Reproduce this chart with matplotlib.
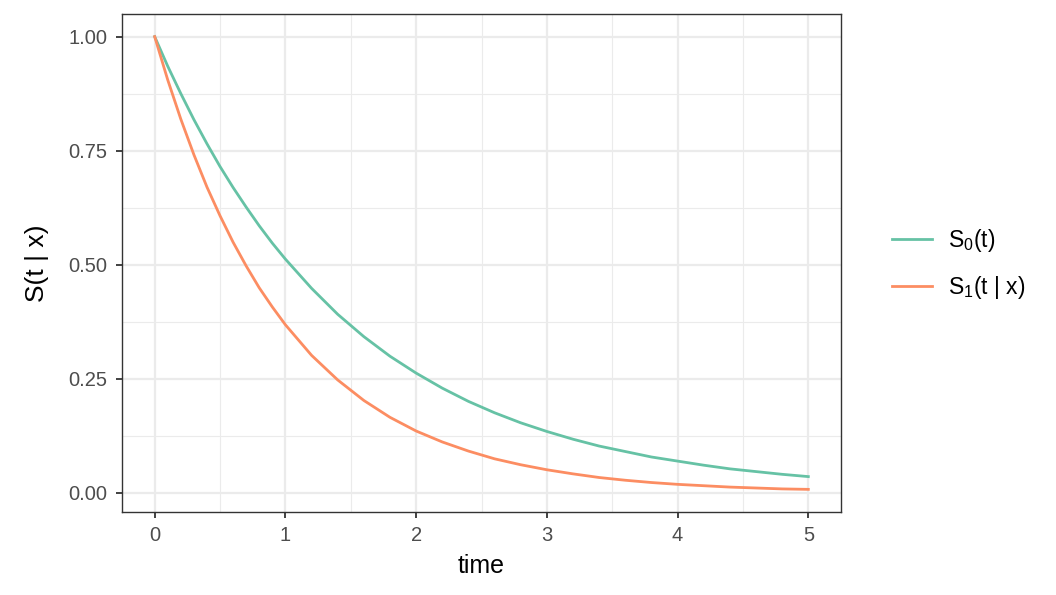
import matplotlib
matplotlib.use("Agg")
import matplotlib.pyplot as plt
from matplotlib.ticker import MultipleLocator

plt.rcParams['font.family'] = ['Liberation Sans', 'DejaVu Sans']
plt.rcParams['mathtext.fontset'] = 'custom'
plt.rcParams['mathtext.rm'] = 'Liberation Sans'
plt.rcParams['mathtext.it'] = 'Liberation Sans'

time = [0.0, 0.1, 0.2, 0.3, 0.4, 0.5, 0.6, 0.7, 0.8, 0.9, 1.0, 1.2, 1.4, 1.6,
        1.8, 2.0, 2.2, 2.4, 2.6, 2.8, 3.0, 3.2, 3.4, 3.6, 3.8, 4.0, 4.2, 4.4,
        4.6, 4.8, 5.0]
s0 = [1.000, 0.935, 0.875, 0.818, 0.765, 0.715, 0.669, 0.626, 0.585, 0.547,
      0.512, 0.448, 0.391, 0.342, 0.299, 0.262, 0.229, 0.200, 0.175, 0.153,
      0.134, 0.117, 0.102, 0.090, 0.078, 0.069, 0.060, 0.052, 0.046, 0.040,
      0.035]
s1 = [1.000, 0.905, 0.819, 0.741, 0.670, 0.607, 0.549, 0.497, 0.449, 0.407,
      0.368, 0.301, 0.247, 0.202, 0.165, 0.135, 0.111, 0.091, 0.074, 0.061,
      0.050, 0.041, 0.033, 0.027, 0.022, 0.018, 0.015, 0.012, 0.010, 0.008,
      0.007]
labels = [r'S$_0$(t)', r'S$_1$(t | x)']
colors = ['#66C2A5', '#FC8D62']

fig = plt.figure(figsize=(10.56, 5.95), dpi=100)
ax = fig.add_axes([122/1056, (595-512)/595, (841-122)/1056, (512-14)/595])

ax.plot(time, s0, color=colors[0], lw=2.0, label=labels[0])
ax.plot(time, s1, color=colors[1], lw=2.0, label=labels[1])

ax.set_xlim(-0.25, 5.25)
ymin, ymax = min(s1), 1.0
pad = 0.05 * (ymax - ymin)
ax.set_ylim(ymin - pad, ymax + pad)

ax.xaxis.set_major_locator(MultipleLocator(1))
ax.xaxis.set_minor_locator(MultipleLocator(0.5))
ax.yaxis.set_major_locator(MultipleLocator(0.25))
ax.yaxis.set_minor_locator(MultipleLocator(0.125))
ax.yaxis.set_major_formatter(plt.FuncFormatter(lambda v, p: f'{v:.2f}'))

ax.grid(which='major', color='#EBEBEB', lw=1.6)
ax.grid(which='minor', color='#EBEBEB', lw=0.8)
ax.set_axisbelow(True)
for sp in ax.spines.values():
    sp.set_color('#333333')
    sp.set_linewidth(1.0)

ax.tick_params(which='major', length=4.3, width=1.3, color='#333333',
               labelsize=14.5, labelcolor='#4D4D4D', pad=6)
ax.tick_params(which='minor', length=0)

ax.set_xlabel('time', fontsize=18, labelpad=6)
ax.set_ylabel('S(t | x)', fontsize=19, labelpad=14)

leg = fig.legend(loc='center left', bbox_to_anchor=(871/1056, 1 - 264/595),
                 frameon=False, fontsize=16.5, handlelength=1.75,
                 labelspacing=0.9, handletextpad=0.7)

fig.savefig('out.png', dpi=100)
